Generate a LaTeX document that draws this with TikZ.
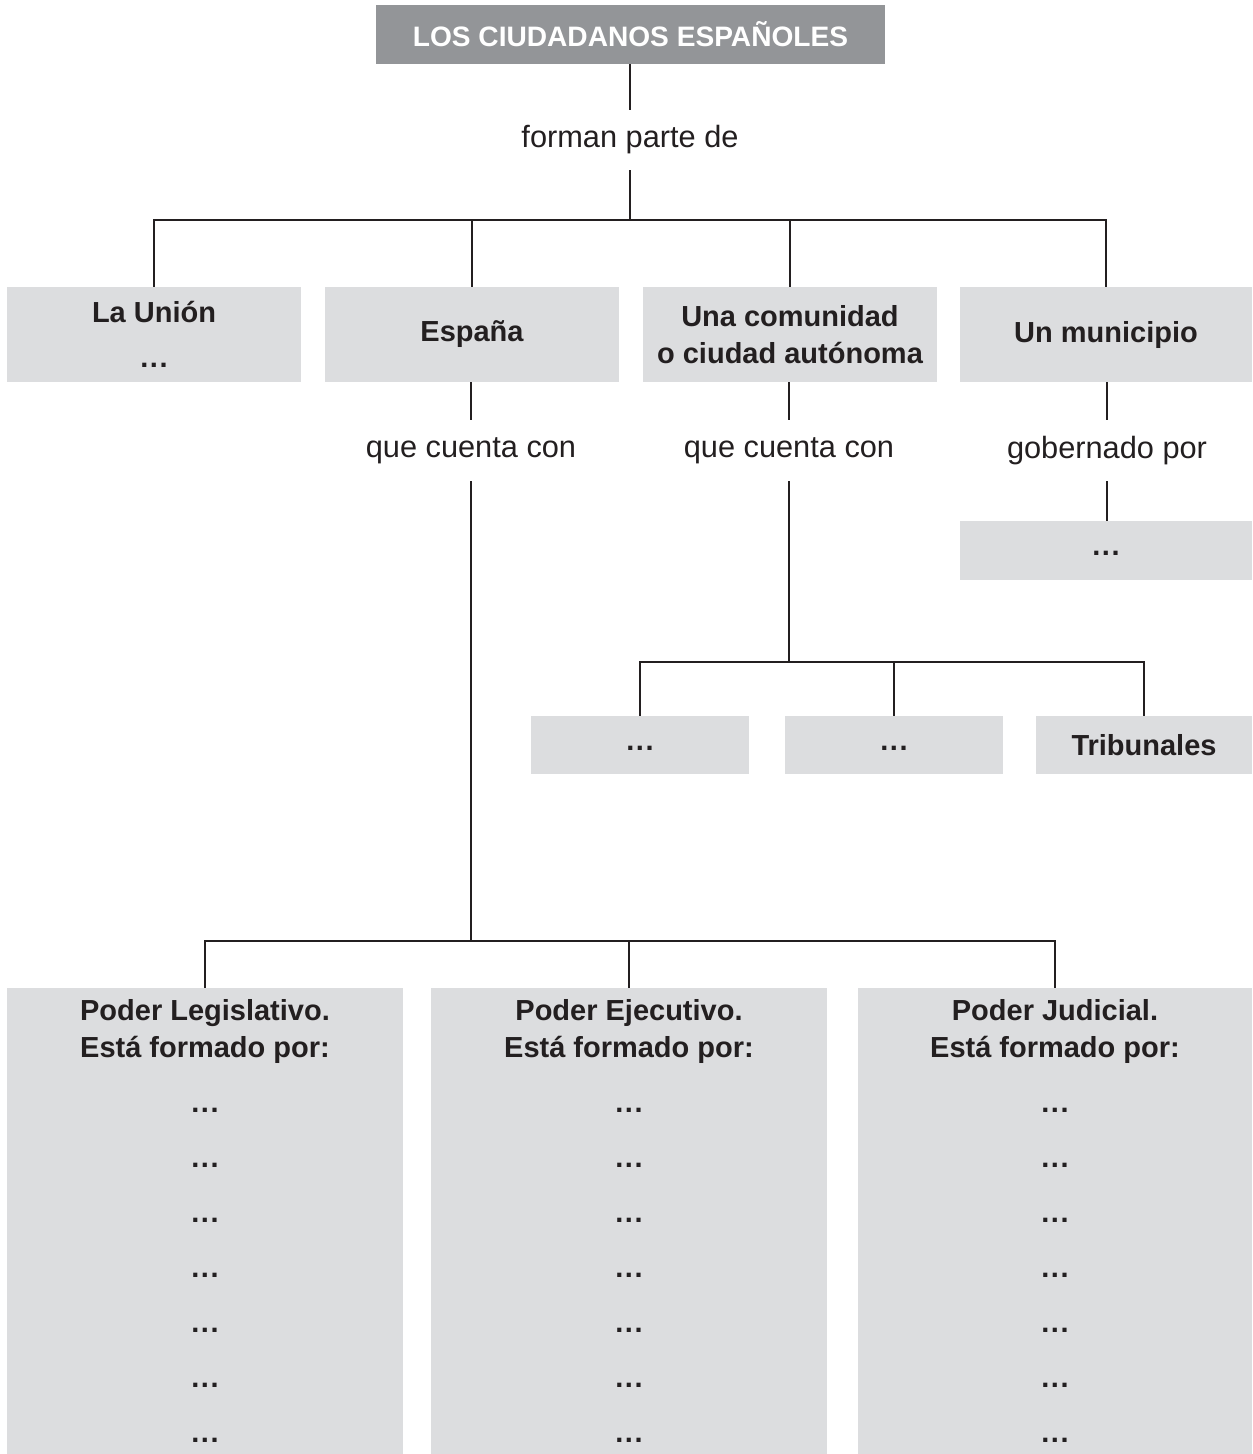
\documentclass[tikz,border=0pt]{standalone}
\usepackage{fontspec}
\setmainfont{Liberation Sans}
\definecolor{boxgray}{HTML}{DCDDDF}
\definecolor{darkgray}{HTML}{939598}
\definecolor{ink}{HTML}{231F20}
\newcommand{\ddd}{.\kern0.9pt.\kern0.9pt.}
\begin{document}
\begin{tikzpicture}[x=0.02cm,y=-0.02cm,
  line/.style={draw=ink,line width=0.8pt},
  gbox/.style={fill=boxgray,inner sep=0pt,align=center,text=ink,
    font=\fontsize{16.5}{21}\selectfont\bfseries},
  dotbox/.style={fill=boxgray,inner sep=0pt,text=ink,text height=6pt,text depth=0pt,
    font=\fontsize{16.5}{21}\selectfont\bfseries},
  topbox/.style={fill=darkgray,inner sep=0pt,text=white,
    font=\fontsize{16}{19}\selectfont\bfseries},
  lbl/.style={inner sep=0pt,text=ink,font=\fontsize{17.5}{20}\selectfont}]
\useasboundingbox (0,0) rectangle (1252,1454);
% top
\node[topbox,minimum width=10.18cm,minimum height=1.18cm] (top) at (630.5,34.5) {LOS CIUDADANOS ESPAÑOLES};
\node[lbl,minimum height=1.2cm] (forman) at (630,140) {forman parte de};
\coordinate (j1) at (630,220);
% row 1
\node[gbox,minimum width=5.88cm,minimum height=1.9cm] (union) at (154,334.5) {La Unión\\[5pt]\ddd};
\node[gbox,minimum width=5.88cm,minimum height=1.9cm] (espana) at (472,334.5) {España};
\node[gbox,minimum width=5.88cm,minimum height=1.9cm] (comunidad) at (790,334.5) {Una comunidad\\o ciudad autónoma};
\node[gbox,minimum width=5.84cm,minimum height=1.9cm] (municipio) at (1106,334.5) {Un municipio};
% labels
\node[lbl,minimum height=1.22cm] (qcc1) at (471,450.5) {que cuenta con};
\node[lbl,minimum height=1.22cm] (qcc2) at (789,450.5) {que cuenta con};
\node[lbl,minimum height=1.22cm] (gob) at (1107,450.5) {gobernado por};
% municipio sub
\node[dotbox,minimum width=5.84cm,minimum height=1.18cm] (mun1) at (1106,550.5) {\ddd};
% comunidad sub
\coordinate (j3) at (789,662);
\node[dotbox,minimum width=4.36cm,minimum height=1.16cm] (c1) at (640,745) {\ddd};
\node[dotbox,minimum width=4.36cm,minimum height=1.16cm] (c2) at (894,745) {\ddd};
\node[gbox,minimum width=4.32cm,minimum height=1.16cm] (c3) at (1144,745) {Tribunales};
% espana sub
\coordinate (j2) at (471,941);
\node[gbox,minimum width=7.92cm,minimum height=9.32cm] (legis) at (205,1221)
  {Poder Legislativo.\\Está formado por:\\[10pt]\ddd\\[10.3pt]\ddd\\[10.3pt]\ddd\\[10.3pt]\ddd\\[10.3pt]\ddd\\[10.3pt]\ddd\\[10.3pt]\ddd};
\node[gbox,minimum width=7.92cm,minimum height=9.32cm] (ejec) at (629,1221)
  {Poder Ejecutivo.\\Está formado por:\\[10pt]\ddd\\[10.3pt]\ddd\\[10.3pt]\ddd\\[10.3pt]\ddd\\[10.3pt]\ddd\\[10.3pt]\ddd\\[10.3pt]\ddd};
\node[gbox,minimum width=7.88cm,minimum height=9.32cm] (judicial) at (1055,1221)
  {Poder Judicial.\\Está formado por:\\[10pt]\ddd\\[10.3pt]\ddd\\[10.3pt]\ddd\\[10.3pt]\ddd\\[10.3pt]\ddd\\[10.3pt]\ddd\\[10.3pt]\ddd};
% connectors
\draw[line] (forman.north) -- (forman.north |- top.south);
\draw[line] (forman.south) -- (j1);
\draw[line] (union.north) |- (j1) -| (municipio.north);
\draw[line] (espana.north) -- (espana.north |- j1);
\draw[line] (comunidad.north) -- (comunidad.north |- j1);
\draw[line] (qcc1.north) -- (qcc1.north |- espana.south);
\draw[line] (qcc2.north) -- (qcc2.north |- comunidad.south);
\draw[line] (gob.north) -- (gob.north |- municipio.south);
\draw[line] (gob.south) -- (gob.south |- mun1.north);
\draw[line] (qcc2.south) -- (j3);
\draw[line] (c1.north) |- (j3) -| (c3.north);
\draw[line] (c2.north) -- (c2.north |- j3);
\draw[line] (qcc1.south) -- (j2);
\draw[line] (legis.north) |- (j2) -| (judicial.north);
\draw[line] (ejec.north) -- (ejec.north |- j2);
\end{tikzpicture}
\end{document}
